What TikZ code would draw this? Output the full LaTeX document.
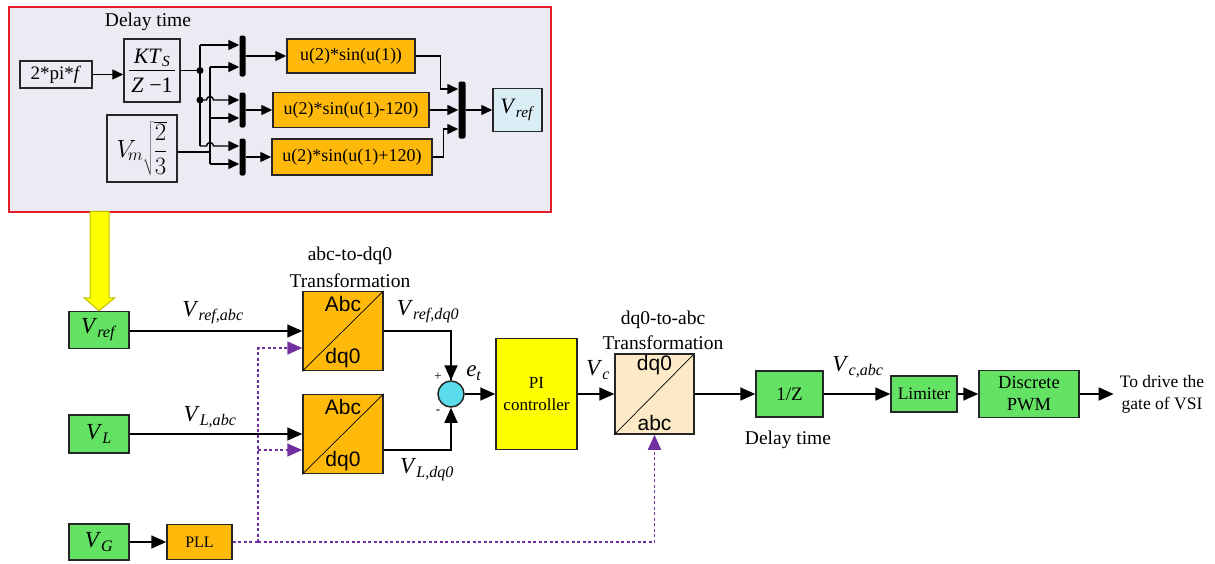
\documentclass[tikz,border=0pt]{standalone}
\usepackage{fontspec}
\setmainfont{Liberation Serif}
\newfontfamily\arialf{Liberation Sans}
\usetikzlibrary{arrows.meta,calc}
\definecolor{cgreen}{RGB}{100,226,100}
\definecolor{corange}{RGB}{255,185,10}
\definecolor{cbeige}{RGB}{252,234,198}
\definecolor{ccyan}{RGB}{90,220,235}
\definecolor{clblue}{RGB}{220,238,245}
\definecolor{clav}{RGB}{236,234,242}
\definecolor{cred}{RGB}{226,30,40}
\definecolor{cpurple}{RGB}{112,48,160}
\definecolor{cyell}{RGB}{255,255,0}
\definecolor{colive}{RGB}{190,190,0}
\newcommand\Vsub[1]{\textit{V}\textsubscript{\textit{#1}}}
\begin{document}
\begin{tikzpicture}[x=1pt,y=-1pt,
  box/.style={draw=black!85, line width=1.5pt, inner sep=0pt, align=center, font=\fontsize{18}{20}\selectfont},
  grn/.style={box, fill=cgreen},
  org/.style={box, fill=corange},
  muxbar/.style={fill=black, inner sep=0pt, minimum width=6pt, rounded corners=2pt},
  wire/.style={line width=1.4pt},
  ssig/.style={wire, -{Triangle[length=11pt,width=10pt]}},
  mwire/.style={line width=1.7pt},
  sig/.style={mwire, -{Triangle[length=15pt,width=13pt]}},
  plls/.style={draw=cpurple, line width=1.7pt, dash pattern=on 3pt off 2.5pt},
  pllarrow/.style={plls, -{Triangle[length=15pt,width=13pt,fill=cpurple]}},
  vlbl/.style={font=\fontsize{23}{25}\selectfont, inner sep=0pt},
  ttl/.style={font=\fontsize{19.5}{22}\selectfont, inner sep=0pt},
  diag/.style={line width=0.7pt},
]
\useasboundingbox (0,0) rectangle (1215,563);

% ---------- top sub-system ----------
\node[draw=cred, line width=2pt, fill=clav, minimum width=542pt, minimum height=205pt, inner sep=0pt] (top) at (280,109.5) {};
\node[ttl] (dtl) at (148,22) {Delay time};
\node[box, minimum width=72pt, minimum height=27pt, font=\fontsize{19}{21}\selectfont] (tpf) at (56,74.5) {2*pi*\textit{f}};
\node[box, minimum width=56pt, minimum height=63pt] (kts) at (152,70.5) {};
\node[font=\fontsize{22}{24}\selectfont, inner sep=0pt] (ktsn) at ([yshift=13pt]kts.center) {\textit{KT}\textsubscript{\textit{S}}};
\node[font=\fontsize{22}{24}\selectfont, inner sep=0pt] (ktsd) at ([yshift=-15pt]kts.center) {\textit{Z} −1};
\draw[line width=1.1pt] ([xshift=-23pt]kts.center) -- ([xshift=23pt]kts.center);
\node[box, minimum width=70pt, minimum height=67pt, font=\fontsize{23}{25}\selectfont] (vm) at (142,148.5) {$V_{\!m}\sqrt{\displaystyle\frac{2}{3}}$};

\node[muxbar, minimum height=41pt] (mux1) at (242.5,56) {};
\node[muxbar, minimum height=35pt] (mux2) at (242.5,110) {};
\node[muxbar, minimum height=37pt] (mux3) at (242.5,157) {};
\node[muxbar, minimum height=57pt, minimum width=7pt] (mux4) at (462,110) {};

\node[org, minimum width=128pt, minimum height=34pt] (b1) at (351,56) {u(2)*sin(u(1))};
\node[org, minimum width=156pt, minimum height=35pt] (b2) at (351,110) {u(2)*sin(u(1)-120)};
\node[org, minimum width=160pt, minimum height=36pt] (b3) at (352,157) {u(2)*sin(u(1)+120)};
\node[box, fill=clblue, minimum width=49pt, minimum height=43pt, font=\fontsize{22}{24}\selectfont] (vreft) at (517.5,110) {\Vsub{ref}};

\coordinate (j1) at (200,70.5);
\coordinate (th1) at (200,45);
\coordinate (th2) at (200,100);
\coordinate (th3) at (200,146);
\coordinate (am1) at (210,67);
\coordinate (am2) at (210,118);
\coordinate (am3) at (210,164);
\coordinate (amv) at (210,152);

\draw[ssig] (tpf.east) -- (tpf.east -| kts.west);
\draw[wire] (kts.east) -- (j1);
\draw[wire] (th1) -- (th3);
\draw[ssig] (th1) -- (th1 -| mux1.west);
\draw[ssig] (th2) -- ++(6.5,0) arc[start angle=180,end angle=0,radius=3.5pt] -- (th2 -| mux2.west);
\draw[ssig] (th3) -- ++(6.5,0) arc[start angle=180,end angle=0,radius=3.5pt] -- (th3 -| mux3.west);
\draw[wire] (am1) -- (am3);
\draw[wire] (vm.east |- amv) -- (amv);
\draw[ssig] (am1) -- (am1 -| mux1.west);
\draw[ssig] (am2) -- (am2 -| mux2.west);
\draw[ssig] (am3) -- (am3 -| mux3.west);
\fill (j1) circle[radius=3.5pt];
\fill (th2) circle[radius=3.5pt];

\draw[ssig] (mux1) -- (b1);
\draw[ssig] (mux2) -- (b2);
\draw[ssig] (mux3) -- (b3);
\draw[ssig] (b1.east) -- ++(25,0) |- ([yshift=21pt]mux4.west);
\draw[ssig] (b2) -- (mux4);
\draw[ssig] (b3.east) -- ++(11,0) |- ([yshift=-19pt]mux4.west);
\draw[ssig] (mux4) -- (vreft);

% ---------- main loop ----------
\node[grn, minimum width=60pt, minimum height=37pt, font=\fontsize{23}{25}\selectfont] (vrefb) at (99,330) {\Vsub{ref}};
\node[grn, minimum width=60pt, minimum height=38pt, font=\fontsize{23}{25}\selectfont] (vl) at (99,434) {\Vsub{L}};
\node[grn, minimum width=60pt, minimum height=36pt, font=\fontsize{23}{25}\selectfont] (vg) at (99,542) {\Vsub{G}};
\node[org, minimum width=65pt, minimum height=35pt, font=\fontsize{16}{18}\selectfont] (pll) at (199.5,542) {PLL};

% yellow arrow from the sub-system to V_ref
\draw[colive, line width=1pt, fill=cyell]
  (vrefb.north) -- ++(16,-13) -- ++(-6,0) -- ++(0,-86.5) -- ++(-19,0) -- ++(0,86.5) -- ++(-6,0) -- cycle;

\node[box, fill=corange, minimum width=80pt, minimum height=79pt] (abc1) at (343,331) {};
\node[box, fill=corange, minimum width=80pt, minimum height=79pt] (abc2) at (343,434) {};
\draw[diag] (abc1.south west) -- (abc1.north east);
\draw[diag] (abc2.south west) -- (abc2.north east);
\node[font=\arialf\fontsize{21}{23}\selectfont, inner sep=0pt] (abc1t) at ([yshift=-13pt]abc1.north) {Abc};
\node[font=\arialf\fontsize{21}{23}\selectfont, inner sep=0pt] (abc1b) at ([yshift=13pt]abc1.south) {dq0};
\node[font=\arialf\fontsize{21}{23}\selectfont, inner sep=0pt] (abc2t) at ([yshift=-13pt]abc2.north) {Abc};
\node[font=\arialf\fontsize{21}{23}\selectfont, inner sep=0pt] (abc2b) at ([yshift=13pt]abc2.south) {dq0};
\node[ttl] (tl1a) at (350,256) {abc-to-dq0};
\node[ttl] (tl1b) at (350,281) {Transformation};

\node[circle, draw=black!85, line width=1.5pt, fill=ccyan, minimum size=26pt, inner sep=0pt] (sum) at (451,394) {};
\node[box, fill=cyell, minimum width=81pt, minimum height=111pt, font=\fontsize{17}{22}\selectfont] (pi) at (536.5,394) {PI\\controller};
\node[box, fill=cbeige, minimum width=79pt, minimum height=80pt] (dqabc) at (654.5,394) {};
\draw[diag] (dqabc.south west) -- (dqabc.north east);
\node[font=\arialf\fontsize{21}{23}\selectfont, inner sep=0pt] (dqt) at ([yshift=-12pt]dqabc.north) {dq0};
\node[font=\arialf\fontsize{21}{23}\selectfont, inner sep=0pt] (dqb) at ([yshift=12pt]dqabc.south) {abc};
\node[ttl] (tl2a) at (663,320) {dq0-to-abc};
\node[ttl] (tl2b) at (663,343) {Transformation};

\node[grn, minimum width=67pt, minimum height=46pt, font=\fontsize{19}{21}\selectfont] (onez) at (789.5,394) {1/Z};
\node[ttl] (dt2) at (788,440) {Delay time};
\node[grn, minimum width=66pt, minimum height=36pt, font=\fontsize{17.5}{20}\selectfont] (lim) at (924,394) {Limiter};
\node[grn, minimum width=100pt, minimum height=47pt, font=\fontsize{18.5}{22}\selectfont] (pwm) at (1029,394) {Discrete\\PWM};
\node[font=\fontsize{17.5}{22}\selectfont, align=center, inner sep=0pt] (outt) at (1162,394) {To drive the\\gate of VSI};

% connectors
\draw[sig] (vrefb.east |- abc1.west) -- (abc1.west);
\draw[sig] (vl) -- (abc2);
\draw[sig] (vg) -- (pll);
\draw[mwire] (abc1.east) -| (sum.north);
\draw[sig] (sum.north |- abc1.east) -- (sum.north);
\draw[sig] ([yshift=-16pt]abc2.east) -| (sum.south);
\draw[sig] (sum) -- (pi);
\draw[sig] (pi) -- (dqabc);
\draw[sig] (dqabc) -- (onez);
\draw[sig] (onez) -- (lim);
\draw[sig] (lim) -- (pwm);
\draw[sig] (pwm) -- ([xshift=-6pt]outt.west);

% PLL dashed connections
\coordinate (br) at (258,542);
\draw[plls] (pll.east) -- (br);
\draw[pllarrow] (br) -- (dqabc.south |- br) -- (dqabc.south);
\draw[pllarrow] (br) |- ([yshift=-17pt]abc1.west);
\draw[pllarrow] (br |- 0,450) -- ([yshift=-16pt]abc2.west);

% labels
\node[vlbl] (l1) at (213,313) {\Vsub{ref,abc}};
\node[vlbl] (l2) at (210,417) {\Vsub{L,abc}};
\node[vlbl] (l3) at (428,312) {\Vsub{ref,dq0}};
\node[vlbl] (l4) at (427,470) {\Vsub{L,dq0}};
\node[vlbl] (l5) at (474,373) {\textit{e}\textsubscript{\textit{t}}};
\node[vlbl] (l6) at (598,370) {\Vsub{c}};
\node[vlbl] (l7) at (858,367) {\Vsub{c,abc}};
\node[font=\fontsize{13}{14}\selectfont, inner sep=0pt] (pl) at (438,377) {+};
\node[font=\fontsize{13}{14}\selectfont, inner sep=0pt] (mi) at (438,412) {-};
\end{tikzpicture}
\end{document}
